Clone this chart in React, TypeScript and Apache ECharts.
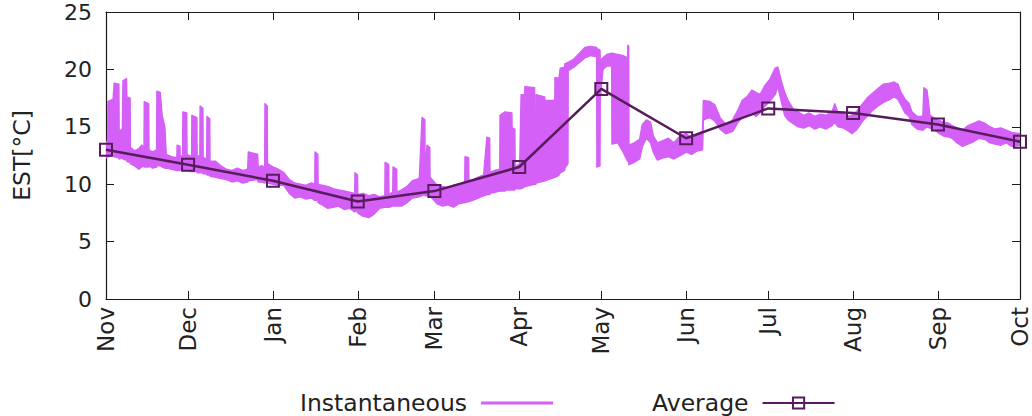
import React, { useEffect, useRef } from "react";
import * as echarts from "echarts";

// Tick labels (x axis: months, positioned at the day offset of each month start from Nov 1)
const monthLabels = ["Nov", "Dec", "Jan", "Feb", "Mar", "Apr", "May", "Jun", "Jul", "Aug", "Sep", "Oct"];
const monthStartDays = [0, 30, 61, 92, 120, 151, 181, 212, 242, 273, 304, 334];
const yTicks = [0, 5, 10, 15, 20, 25];

// Monthly average EST [°C] at each month start
const averageValues = [13.0, 11.7, 10.3, 8.5, 9.4, 11.5, 18.3, 14.0, 16.6, 16.2, 15.2, 13.7];

// Instantaneous EST: [day offset from Nov 1, band low, band high]
const instSamples: [number, number, number][] = [
  [0, 12.3, 13.6], [0.6, 12.4, 13.8], [0.7, 12.4, 17.2], [2.6, 12.5, 17.4], [3.0, 12.4, 18.8],
  [4.7, 12.3, 18.7], [4.8, 12.2, 14.6], [6.0, 12.3, 14.8], [6.2, 12.2, 19.0], [7.5, 12.1, 19.2],
  [7.6, 12.0, 17.6], [8.8, 11.9, 17.5], [8.9, 11.8, 13.2], [10.5, 11.6, 12.9], [12.0, 11.3, 13.1],
  [13.0, 11.5, 13.4], [13.9, 11.6, 13.2], [14.0, 11.5, 17.2], [15.6, 11.5, 17.0], [15.7, 11.6, 13.0],
  [17.0, 11.4, 12.8], [18.5, 11.5, 13.0], [18.6, 11.6, 18.1], [19.8, 11.6, 18.0], [20.5, 11.5, 16.0],
  [21.5, 11.4, 15.0], [22.0, 11.4, 12.6], [24.0, 11.3, 12.4], [25.9, 11.2, 12.3], [26.0, 11.2, 13.4],
  [27.0, 11.2, 13.3], [27.1, 11.3, 12.4], [28.0, 11.2, 12.5], [28.1, 11.2, 16.3], [29.5, 11.3, 16.2],
  [29.6, 11.2, 12.6], [31.3, 11.1, 12.4], [31.4, 11.1, 16.0], [33.2, 11.1, 15.8], [33.3, 11.0, 12.5],
  [34.3, 11.0, 12.4], [34.4, 11.0, 16.8], [35.4, 11.0, 16.6], [35.5, 10.9, 12.3], [36.8, 10.9, 12.2],
  [36.9, 10.8, 15.9], [37.9, 10.8, 15.7], [38.0, 10.7, 12.0], [40, 10.6, 12.0], [42, 10.5, 11.6],
  [44, 10.4, 11.3], [46, 10.2, 11.2], [48, 10.3, 11.4], [50, 10.1, 11.2], [51.8, 10.2, 11.3],
  [52.0, 10.3, 12.8], [55.4, 10.4, 12.6], [55.6, 10.2, 11.5], [57.0, 10.2, 11.6], [58.0, 10.1, 11.5],
  [58.1, 10.2, 17.0], [58.9, 10.2, 16.8], [59.0, 10.1, 11.8], [61, 10.0, 11.5], [63, 9.9, 11.3],
  [65, 9.9, 11.0], [67, 9.2, 10.4], [69, 8.8, 10.1], [71, 8.9, 10.0], [73, 8.7, 9.9],
  [75, 8.8, 10.1], [76.3, 8.6, 10.0], [76.4, 8.6, 12.8], [77.4, 8.6, 12.6], [77.5, 8.4, 10.0],
  [79, 8.2, 9.9], [81, 7.9, 9.8], [83, 8.0, 9.6], [85, 8.1, 9.5], [87, 7.8, 9.4],
  [89, 7.9, 9.3], [90.9, 7.6, 9.2], [91.0, 7.6, 11.0], [91.9, 7.7, 10.8], [92.0, 7.5, 9.1],
  [94, 7.2, 9.2], [96, 7.1, 9.0], [98, 7.4, 9.1], [100, 7.9, 8.9], [101.9, 8.0, 9.0],
  [102.0, 8.0, 11.9], [103.3, 8.0, 11.7], [103.4, 8.0, 9.1], [104.8, 8.1, 9.3], [104.9, 8.1, 11.5],
  [106.2, 8.1, 11.3], [106.3, 8.1, 9.3], [108, 8.1, 9.5], [110, 8.4, 9.8], [112, 8.8, 10.3],
  [114.5, 8.9, 10.5], [115.5, 9.0, 15.8], [116.5, 9.1, 15.6], [116.6, 9.0, 10.5], [117.3, 9.0, 13.4],
  [118.3, 9.0, 13.2], [118.4, 9.0, 10.6], [121, 8.3, 9.9], [123, 8.1, 9.8], [125, 8.2, 9.7],
  [127, 8.0, 9.9], [129, 8.3, 10.0], [131.1, 8.4, 10.2], [131.2, 8.4, 12.4], [132.5, 8.5, 12.3],
  [132.6, 8.5, 10.3], [134, 8.6, 10.4], [136, 8.8, 10.6], [138, 9.0, 10.8], [139.2, 9.1, 14.1],
  [140.2, 9.1, 14.0], [140.3, 9.2, 11.0], [142, 9.3, 11.2], [143.9, 9.4, 11.3], [144.0, 9.4, 16.0],
  [145.8, 9.4, 16.3], [146.0, 9.5, 16.3], [148.3, 9.5, 16.2], [148.4, 9.5, 14.9], [149.4, 9.5, 14.8],
  [149.5, 9.6, 11.5], [151.2, 9.6, 11.8], [151.7, 9.6, 17.8], [153.0, 9.8, 17.8], [153.1, 9.8, 18.5],
  [156.6, 10.0, 18.4], [156.7, 10.0, 11.5], [157.1, 10.0, 11.5], [157.2, 10.1, 17.8], [160.3, 10.3, 17.6],
  [160.4, 10.3, 17.3], [164.0, 10.6, 17.3], [164.1, 10.6, 19.3], [165.5, 10.8, 19.2], [166.0, 11.0, 20.1],
  [167.6, 11.2, 20.2], [167.7, 11.4, 20.5], [168.8, 11.8, 20.6], [168.9, 19.9, 20.6], [171, 20.2, 20.9],
  [173, 20.6, 21.4], [175, 21.0, 21.9], [177, 21.2, 22.0], [179.3, 21.1, 21.9], [179.4, 11.5, 21.8],
  [180.5, 11.6, 21.7], [180.6, 17.5, 20.8], [181.6, 20.0, 21.0], [183, 20.3, 21.3], [184.8, 20.3, 21.4],
  [184.9, 13.5, 21.4], [187, 13.6, 21.3], [189, 12.8, 21.2], [190.6, 12.0, 21.0], [190.7, 12.0, 22.1],
  [191.0, 12.0, 22.0], [191.1, 11.7, 13.4], [193, 11.9, 13.6], [195, 12.2, 13.9], [196, 13.3, 15.2],
  [197.5, 14.0, 15.6], [199, 13.6, 15.4], [200, 12.8, 14.2], [201.5, 12.1, 13.6], [203.5, 12.3, 13.8],
  [205.5, 12.4, 14.0], [207.5, 12.2, 13.6], [209.8, 12.5, 14.2], [212, 12.8, 14.4], [214, 12.6, 14.0],
  [216, 12.9, 14.3], [218.0, 13.0, 14.6], [218.3, 15.6, 17.3], [220.7, 15.8, 17.2], [222.5, 15.5, 16.9],
  [224.4, 14.8, 15.8], [226.5, 14.4, 15.2], [229.0, 14.6, 15.6], [231, 15.4, 16.5], [232.5, 15.8, 17.3],
  [234.2, 16.0, 17.6], [236, 16.3, 18.2], [237.5, 15.9, 18.0], [239, 16.2, 17.8], [240.8, 16.8, 18.6],
  [242.5, 17.2, 19.1], [244.5, 17.8, 20.1], [245.5, 18.5, 20.2], [247.0, 17.0, 18.8], [248.0, 16.0, 18.0],
  [249.2, 15.6, 17.3], [251.0, 15.3, 16.6], [252.9, 15.0, 16.3], [255, 14.9, 16.0], [257, 15.1, 16.2],
  [259, 14.8, 15.9], [261, 15.0, 16.1], [263, 14.8, 16.0], [265.3, 15.1, 16.3], [266.3, 15.4, 17.0],
  [267.5, 15.0, 16.2], [269.5, 14.9, 16.1], [271.5, 14.6, 15.9], [272.6, 14.4, 16.0], [274.5, 14.8, 16.4],
  [276.5, 15.5, 17.0], [278.5, 16.0, 17.6], [280.0, 16.4, 17.9], [282, 16.8, 18.3], [284, 17.1, 18.7],
  [286.5, 17.4, 18.8], [288, 17.6, 18.9], [289.4, 17.4, 18.7], [290.5, 16.9, 18.0], [292.0, 16.2, 17.4],
  [293.5, 15.9, 17.0], [294.5, 15.2, 16.3], [296.5, 14.8, 15.9], [298.5, 14.7, 15.9], [298.9, 14.8, 18.4],
  [300.0, 15.0, 18.2], [301.1, 14.9, 16.0], [302.5, 14.8, 15.8], [304, 14.5, 15.6], [306, 14.2, 15.4],
  [308, 14.1, 15.3], [309.2, 14.0, 15.1], [311, 13.6, 14.9], [313, 13.3, 14.7], [315, 13.5, 15.1],
  [317, 13.7, 15.3], [319, 14.0, 15.5], [321.2, 13.9, 15.3], [323, 13.6, 15.0], [324.9, 13.5, 14.8],
  [327, 13.4, 14.9], [329, 13.6, 14.7], [331, 13.3, 14.5], [334, 13.4, 14.4],
];

const FONT = "DejaVu Sans";
const INST_COLOR = "#d560f7";
const AVG_COLOR = "#561c5c";
const AXIS_COLOR = "#1a1a1a";
const TEXT_COLOR = "#222";

export default function App() {
  const ref = useRef<HTMLDivElement>(null);

  useEffect(() => {
    const chart = echarts.init(ref.current!, null, { renderer: "svg" });
    const avgData = monthStartDays.map((d, i) => [d, averageValues[i]]);

    const xBase = {
      type: "value" as const,
      min: 0,
      max: 334,
      splitLine: { show: false },
      axisLine: { show: true, onZero: false, lineStyle: { color: AXIS_COLOR, width: 1.2 } },
      axisTick: { show: true, inside: true, length: 8, customValues: monthStartDays, lineStyle: { color: AXIS_COLOR } },
    };
    const yBase = {
      type: "value" as const,
      min: 0,
      max: 25,
      interval: 5,
      splitLine: { show: false },
      axisLine: { show: true, onZero: false, lineStyle: { color: AXIS_COLOR, width: 1.2 } },
      axisTick: { show: true, inside: true, length: 8, lineStyle: { color: AXIS_COLOR } },
    };

    chart.setOption({
      animation: false,
      grid: { left: 106, right: 12, top: 12, bottom: 117, containLabel: false },
      legend: {
        data: [
          { name: "Instantaneous", icon: "path://M0,0H72V3H0Z" },
          { name: "Average" },
        ],
        left: 295,
        top: 386,
        align: "right",
        itemWidth: 72,
        itemHeight: 14,
        itemGap: 99,
        selectedMode: false,
        textStyle: { fontFamily: FONT, fontSize: 23.5, color: TEXT_COLOR, padding: [0, 9, 0, 0] },
      },
      xAxis: [
        {
          ...xBase,
          position: "bottom",
          axisLabel: {
            show: true,
            customValues: monthStartDays,
            rotate: 90,
            margin: 8,
            fontFamily: FONT,
            fontSize: 23,
            color: TEXT_COLOR,
            formatter: (v: number) => monthLabels[monthStartDays.indexOf(v)] ?? "",
          },
        },
        { ...xBase, position: "top", axisLabel: { show: false } },
      ],
      yAxis: [
        {
          ...yBase,
          position: "left",
          name: "EST[°C]",
          nameLocation: "middle",
          nameGap: 72,
          nameTextStyle: { fontFamily: FONT, fontSize: 23.5, color: TEXT_COLOR },
          axisLabel: {
            show: true,
            margin: 14,
            fontFamily: FONT,
            fontSize: 22,
            color: TEXT_COLOR,
            customValues: yTicks,
          },
        },
        { ...yBase, position: "right", axisLabel: { show: false } },
      ],
      series: [
        {
          name: "Instantaneous",
          type: "custom",
          data: instSamples,
          encode: { x: 0, y: [1, 2] },
          itemStyle: { color: INST_COLOR },
          clip: true,
          z: 2,
          renderItem: (params: any, api: any) => {
            if (params.dataIndex !== 0) return null;
            const upper = instSamples.map((s) => api.coord([s[0], s[2]]));
            const lower = instSamples.slice().reverse().map((s) => api.coord([s[0], s[1]]));
            return {
              type: "polygon",
              shape: { points: upper.concat(lower) },
              style: { fill: INST_COLOR, stroke: INST_COLOR, lineWidth: 1.5, lineJoin: "round" },
            };
          },
        },
        {
          name: "Average",
          type: "line",
          data: avgData,
          symbol: "rect",
          symbolSize: 12,
          itemStyle: { color: "rgba(0,0,0,0)", borderColor: AVG_COLOR, borderWidth: 2 },
          lineStyle: { color: AVG_COLOR, width: 2.5 },
          z: 5,
        },
      ],
    });
    return () => chart.dispose();
  }, []);

  return (
    <div
      ref={ref}
      style={{ position: "absolute", left: 0, top: 0, width: 1032, height: 416 }}
    />
  );
}
